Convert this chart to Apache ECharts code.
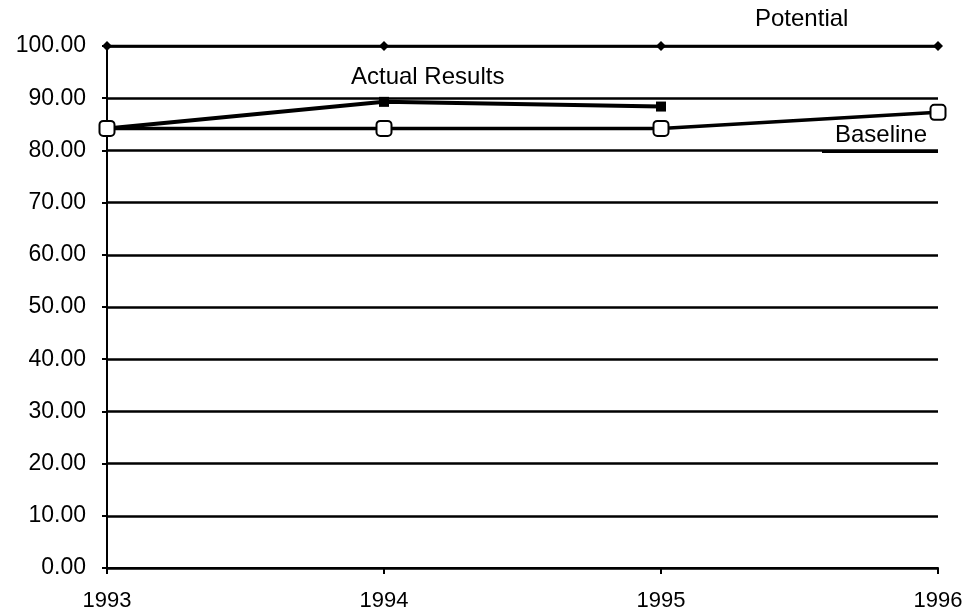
<!DOCTYPE html>
<html>
<head>
<meta charset="utf-8">
<script src="https://cdn.jsdelivr.net/npm/echarts@6/dist/echarts.min.js"></script>
<style>
html,body{margin:0;padding:0;background:#fff;}
#pic1{width:966px;height:615px;}
</style>
</head>
<body>
<div id="pic1"></div>
<script>
// years and values
var years = ['1993', '1994', '1995', '1996'];
var potential = [100, 100, 100, 100];
var actualResults = [84.2, 89.3, 88.4, null];
var baseline = [84.2, 84.2, 84.2, 87.3];

var myChart = echarts.init(document.getElementById('pic1'));

var font = 'Liberation Sans, Arial, sans-serif';

option = {
    backgroundColor: '#fff',
    animation: false,
    grid: { left: 107, right: 28, top: 46, bottom: 47 },
    xAxis: {
        type: 'category',
        data: years,
        boundaryGap: false,
        axisLine: { show: true, lineStyle: { color: '#000', width: 2 } },
        axisTick: { show: true, inside: false, length: 6, alignWithLabel: true, lineStyle: { color: '#000', width: 2 } },
        axisLabel: { color: '#000', fontFamily: font, fontSize: 22, margin: 22 },
        splitLine: { show: false }
    },
    yAxis: {
        type: 'value',
        min: 0,
        max: 100,
        interval: 10,
        axisLine: { show: true, lineStyle: { color: '#000', width: 2 } },
        axisTick: { show: true, length: 5, lineStyle: { color: '#000', width: 2 } },
        axisLabel: {
            color: '#000', fontFamily: font, fontSize: 23, margin: 21,
            formatter: function (v) { return v.toFixed(2); }
        },
        splitLine: { show: true, lineStyle: { color: '#000', width: 2.5 } }
    },
    series: [
        {
            name: 'Potential',
            type: 'line',
            data: potential,
            symbol: 'diamond',
            symbolSize: 10,
            itemStyle: { color: '#000' },
            lineStyle: { color: '#000', width: 3 },
            z: 3
        },
        {
            name: 'Actual Results',
            type: 'line',
            data: actualResults,
            symbol: 'rect',
            symbolSize: 10,
            itemStyle: { color: '#000' },
            lineStyle: { color: '#000', width: 4 },
            z: 4
        },
        {
            name: 'Baseline',
            type: 'line',
            data: baseline,
            symbol: 'roundRect',
            symbolSize: 15,
            itemStyle: { color: '#fff', borderColor: '#000', borderWidth: 2 },
            lineStyle: { color: '#000', width: 3.5 },
            z: 5
        }
    ],
    graphic: [
        { type: 'text', left: 755, top: 7, style: { text: 'Potential', fill: '#000', font: '24px ' + font } },
        { type: 'text', left: 351, top: 65, style: { text: 'Actual Results', fill: '#000', font: '24px ' + font } },
        { type: 'text', left: 835, top: 123, style: { text: 'Baseline', fill: '#000', font: '24px ' + font } },
        { type: 'line', shape: { x1: 822, y1: 152, x2: 938, y2: 152 }, style: { stroke: '#000', lineWidth: 2 } }
    ]
};

myChart.setOption(option);
</script>
</body>
</html>
